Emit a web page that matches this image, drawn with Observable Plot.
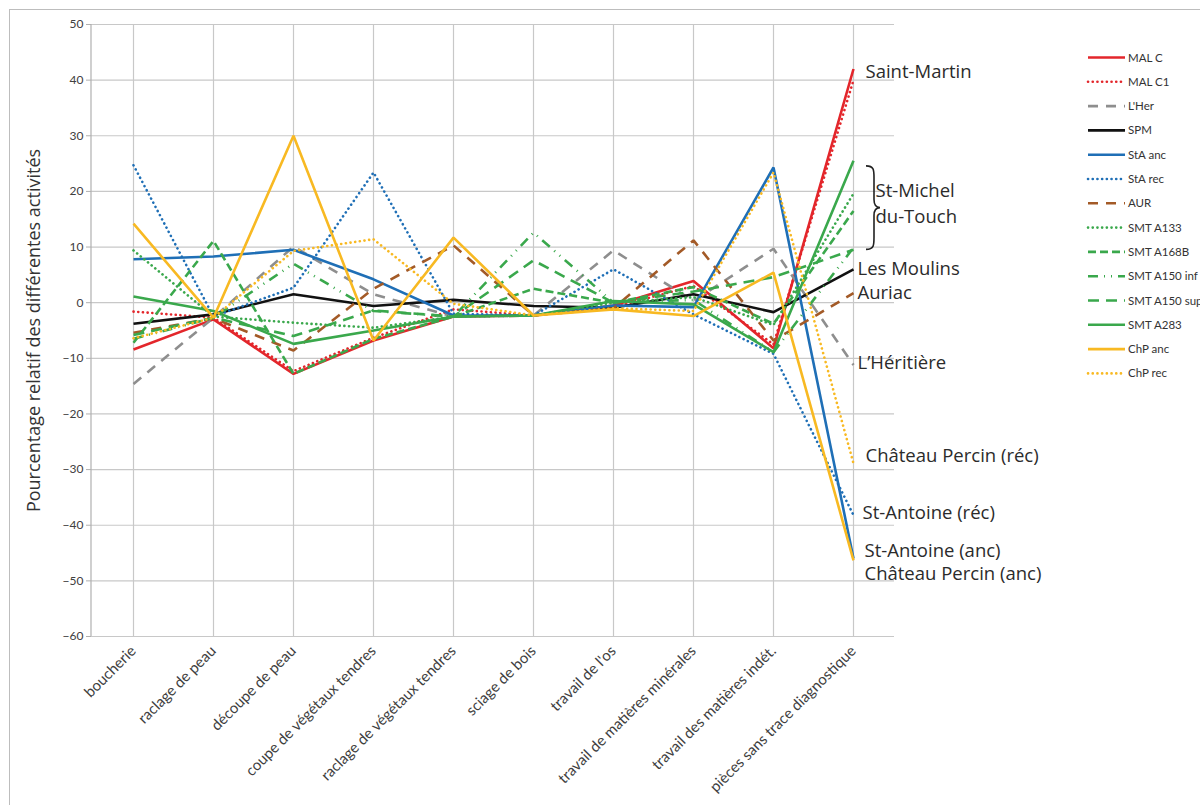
<!DOCTYPE html>
<html><head><meta charset="utf-8">
<script src="https://cdn.jsdelivr.net/npm/d3@7"></script>
<script src="https://cdn.jsdelivr.net/npm/@observablehq/plot@0.6"></script>
<style>body{margin:0;background:#fff;}</style>
</head><body><div id="chart"></div>
<script>
const categories = ["boucherie","raclage de peau","découpe de peau","coupe de végétaux tendres","raclage de végétaux tendres","sciage de bois","travail de l'os","travail de matières minérales","travail des matières indét.","pièces sans trace diagnostique"];
const seriesNames = ["MAL C","MAL C1","L'Her","SPM","StA anc","StA rec","AUR","SMT A133","SMT A168B","SMT A150 inf","SMT A150 sup","SMT A283","ChP anc","ChP rec"];
const malC      = [-8.4, -3.0, -12.8, -6.8, -2.5, -2.3, -0.5, 3.9, -8.2, 42.0];
const malC1     = [-1.6, -2.7, -12.3, -6.3, -1.2, -2.3, -0.8, 3.0, -7.5, 40.0];
const lHer      = [-14.6, -2.7, 10.1, 1.5, -2.5, -2.3, 9.4, 0.3, 9.7, -11.2];
const spm       = [-3.8, -2.1, 1.5, -0.6, 0.5, -0.6, -0.9, 1.5, -1.7, 6.0];
const staAnc    = [7.8, 8.3, 9.5, 4.2, -2.3, -2.3, -0.5, -0.8, 24.3, -46.0];
const staRec    = [24.7, -2.5, 2.7, 23.4, -2.0, -2.3, 6.0, -2.1, -9.2, -38.2];
const aur       = [-5.4, -2.8, -8.6, 2.5, 10.3, -2.3, -1.0, 11.2, -6.8, 1.7];
const smtA133   = [9.4, -2.5, -3.6, -4.5, -2.5, -2.3, 0.0, 1.0, -4.0, 19.6];
const smtA168B  = [-7.2, 11.1, -12.8, -6.5, -2.5, 2.5, 0.0, 2.8, -3.8, 16.5];
const smtA150i  = [-6.5, -2.7, 7.0, -1.5, -2.5, 12.6, 0.0, 0.5, -8.9, 9.9];
const smtA150s  = [-5.8, -2.7, -6.0, -1.4, -2.5, 7.6, 0.0, 2.0, 4.6, 9.5];
const smtA283   = [1.1, -1.5, -7.4, -5.0, -2.5, -2.3, 0.3, -0.3, -8.9, 25.5];
const chpAnc    = [14.2, -2.7, 30.0, -6.8, 11.7, -2.3, -1.2, -2.4, 5.4, -46.3];
const chpRec    = [-6.4, -2.7, 9.3, 11.4, -0.2, -2.3, -1.0, -1.5, 23.4, -28.9];
const seriesValues = [malC, malC1, lHer, spm, staAnc, staRec, aur, smtA133, smtA168B, smtA150i, smtA150s, smtA283, chpAnc, chpRec];
const yTicks = [-60, -50, -40, -30, -20, -10, 0, 10, 20, 30, 40, 50];
const yTitle = "Pourcentage relatif des différentes activités";
const siteLabels = ["Saint-Martin","St-Michel","du-Touch","Les Moulins","Auriac","L’Héritière","Château Percin (réc)","St-Antoine (réc)","St-Antoine (anc)","Château Percin (anc)"];
const siteLabelValues = [41.5, 20.0, 15.3, 6.0, 1.8, -10.8, -27.5, -37.8, -44.6, -48.8];
const braceRange = [24.5, 9.5];

// styles
const RED = "#e3262b", GRAY = "#8e8e8e", BLACK = "#111", BLUE = "#1f6fb6", BROWN = "#a35a27", GREEN = "#3aa84c", YELLOW = "#f8b922";
const colors = [RED, RED, GRAY, BLACK, BLUE, BLUE, BROWN, GREEN, GREEN, GREEN, GREEN, GREEN, YELLOW, YELLOW];
const DOT = "0.1 4.6", SOLID = null;
const dashes = [SOLID, DOT, "10 8", SOLID, SOLID, DOT, "10 8", DOT, "8 4", "10 6 1 6 1 6", "11 7", SOLID, SOLID, DOT];
const labelDx = [12, 22, 22, 4, 4, 4, 12, 9, 11, 11];

const rows = seriesNames.flatMap((s, i) => categories.map((c, j) => ({series: s, cat: c, value: seriesValues[i][j]})));

const lineMarks = seriesNames.map((s, i) => Plot.line(rows.filter(d => d.series === s), {
  x: "cat", y: "value", stroke: colors[i], strokeWidth: 2.6,
  strokeDasharray: dashes[i] || undefined,
  strokeLinecap: dashes[i] === DOT ? "round" : "butt",
  strokeLinejoin: "miter"
}));

const labelMarks = siteLabels.map((t, i) => Plot.text([t], {
  x: () => categories[categories.length - 1], y: () => siteLabelValues[i], text: d => d,
  dx: labelDx[i], textAnchor: "start", fontSize: 18.5, fill: "#2b2b2b", fontFamily: "Open Sans"
}));

const plot = Plot.plot({
  width: 1200, height: 805,
  marginLeft: 91, marginRight: 306, marginTop: 24, marginBottom: 169,
  style: {fontFamily: "Lato", background: "#fff", color: "#404040"},
  x: {type: "point", domain: categories, padding: 0.5},
  y: {domain: [-60, 50]},
  marks: [
    Plot.gridX(categories, {stroke: "#c8c8c8", strokeOpacity: 1, strokeWidth: 1.2}),
    Plot.gridY(yTicks, {stroke: "#c8c8c8", strokeOpacity: 1, strokeWidth: 1.2}),
    Plot.axisY(yTicks, {tickSize: 5, tickPadding: 3, fontSize: 12, label: null, stroke: "#b0b0b0"}),
    Plot.axisX({tickRotate: -45, tickSize: 0, tickPadding: 12, fontSize: 15, label: null}),
    Plot.text([yTitle], {frameAnchor: "left", textAnchor: "middle", rotate: -90, dx: -57, fontSize: 18, fill: "#333", fontFamily: "Open Sans"}),
    ...lineMarks,
    ...labelMarks
  ]
});

const svg = d3.select(plot);
const ys = plot.scale("y"), xs = plot.scale("x");
// left axis line
svg.append("line").attr("x1", 91).attr("x2", 91).attr("y1", ys.apply(50)).attr("y2", ys.apply(-60))
  .attr("stroke", "#b0b0b0").attr("stroke-width", 1.2);
// outer frame
svg.append("rect").attr("x", 9.5).attr("y", 9.5).attr("width", 1200).attr("height", 1000)
  .attr("fill", "none").attr("stroke", "#bdbdbd").attr("stroke-width", 1);
// brace
const bx = xs.apply(categories[categories.length - 1]) + 13;
const y0 = ys.apply(braceRange[0]), y1 = ys.apply(braceRange[1]), ym = (y0 + y1) / 2;
svg.append("path")
  .attr("d", `M${bx},${y0} C${bx+8},${y0} ${bx+8},${y0+4} ${bx+8},${y0+12} L${bx+8},${ym-8} C${bx+8},${ym-2} ${bx+10},${ym} ${bx+14},${ym} C${bx+10},${ym} ${bx+8},${ym+2} ${bx+8},${ym+8} L${bx+8},${y1-12} C${bx+8},${y1-4} ${bx+8},${y1} ${bx},${y1}`)
  .attr("fill", "none").attr("stroke", "#222").attr("stroke-width", 1.6);
// legend
const lg = svg.append("g").attr("font-family", "Lato").attr("font-size", 11.5).attr("fill", "#333").attr("text-anchor", "start");
seriesNames.forEach((s, i) => {
  const y = 57.5 + i * 24.3;
  lg.append("line").attr("x1", 1088).attr("x2", 1125).attr("y1", y).attr("y2", y)
    .attr("stroke", colors[i]).attr("stroke-width", 2.6)
    .attr("stroke-dasharray", dashes[i] || null)
    .attr("stroke-linecap", dashes[i] === DOT ? "round" : "butt");
  lg.append("text").attr("x", 1128).attr("y", y).attr("dy", "0.35em").attr("text-anchor", "start").text(s);
});
document.getElementById("chart").appendChild(plot);
</script>
</body></html>
